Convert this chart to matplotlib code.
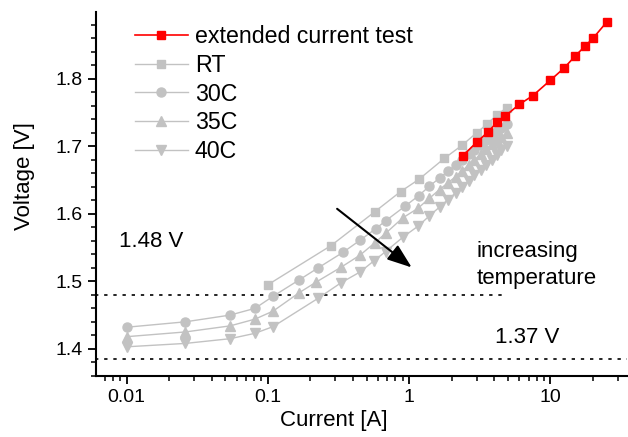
import numpy as np
import matplotlib
matplotlib.use('Agg')
import matplotlib.pyplot as plt
from matplotlib.ticker import MultipleLocator, LogLocator, NullFormatter

plt.rcParams['font.family'] = ['Liberation Sans', 'DejaVu Sans']

# current [A] / voltage [V]
i_ext = [2.4, 3.0, 3.6, 4.2, 4.8, 6.0, 7.5, 10, 12.5, 15, 17.5, 20, 25]
v_ext = [1.686, 1.706, 1.721, 1.736, 1.745, 1.762, 1.775, 1.798, 1.816, 1.834, 1.848, 1.860, 1.884]

i_rt = [0.1, 0.28, 0.57, 0.87, 1.17, 1.77, 2.38, 3.0, 3.56, 4.2, 4.89]
v_rt = [1.495, 1.553, 1.603, 1.633, 1.651, 1.682, 1.702, 1.720, 1.733, 1.747, 1.757]

i_30 = [0.01, 0.026, 0.054, 0.081, 0.109, 0.166, 0.227, 0.34, 0.45, 0.58, 0.685,
        0.93, 1.17, 1.39, 1.64, 1.88, 2.13, 2.38, 2.63, 2.9, 3.2, 3.5, 3.85, 4.2, 4.5, 4.9]
v_30 = [1.432, 1.440, 1.450, 1.460, 1.478, 1.502, 1.520, 1.543, 1.561, 1.578, 1.590,
        1.611, 1.627, 1.641, 1.653, 1.663, 1.672, 1.680, 1.688, 1.695, 1.702, 1.709, 1.716, 1.722, 1.727, 1.733]

i_35 = [0.01, 0.026, 0.054, 0.081, 0.109, 0.166, 0.22, 0.33, 0.45, 0.57, 0.68,
        0.9, 1.15, 1.39, 1.64, 1.88, 2.13, 2.38, 2.63, 2.9, 3.2, 3.5, 3.85, 4.2, 4.5, 4.9]
v_35 = [1.418, 1.425, 1.434, 1.444, 1.456, 1.483, 1.499, 1.521, 1.539, 1.557, 1.571,
        1.594, 1.608, 1.623, 1.636, 1.646, 1.655, 1.664, 1.672, 1.680, 1.688, 1.696, 1.703, 1.709, 1.714, 1.720]

i_40 = [0.01, 0.026, 0.054, 0.081, 0.109, 0.227, 0.33, 0.45, 0.56, 0.68,
        0.91, 1.16, 1.39, 1.64, 1.88, 2.13, 2.38, 2.63, 2.9, 3.2, 3.5, 3.85, 4.2, 4.5, 4.9]
v_40 = [1.403, 1.408, 1.415, 1.423, 1.433, 1.475, 1.498, 1.514, 1.530, 1.544,
        1.566, 1.582, 1.597, 1.610, 1.621, 1.631, 1.640, 1.649, 1.657, 1.665, 1.673, 1.680, 1.687, 1.694, 1.700]

v_upper = 1.48
v_lower = 1.385

grey = '#c2c2c2'

fig = plt.figure(figsize=(6.28, 4.37), dpi=100)
ax = fig.add_axes([0.153, 0.140, 0.845, 0.8325])

ax.hlines(v_upper, 0.006, 4.8, colors='black', linestyles=(0, (2, 3.5)), lw=1.2)
ax.hlines(v_lower, 0.006, 40, colors='black', linestyles=(0, (2, 3.5)), lw=1.2)

ax.plot(i_rt, v_rt, color=grey, lw=1, marker='s', ms=6, mec=grey, mfc=grey, label='RT', zorder=3)
ax.plot(i_30, v_30, color=grey, lw=1, marker='o', ms=6.5, mec=grey, mfc=grey, label='30C', zorder=3)
ax.plot(i_35, v_35, color=grey, lw=1, marker='^', ms=7, mec=grey, mfc=grey, label='35C', zorder=3)
ax.plot(i_40, v_40, color=grey, lw=1, marker='v', ms=7, mec=grey, mfc=grey, label='40C', zorder=3)
ax.plot(i_ext, v_ext, color='red', lw=1.2, marker='s', ms=6, mec='red', mfc='red',
        label='extended current test', zorder=4)

ax.annotate('', xy=(1.08, 1.518), xytext=(0.298, 1.61),
            arrowprops=dict(arrowstyle='-|>,head_length=1.5,head_width=0.55', color='black', lw=1.5),
            zorder=5)

ax.text(0.0088, 1.5585, '1.48 V', fontsize=16, va='center', ha='left')
ax.text(4.05, 1.4163, '1.37 V', fontsize=16, va='center', ha='left')
ax.text(3.0, 1.5244, 'increasing\ntemperature', fontsize=16, va='center', ha='left', linespacing=1.4)

ax.set_xscale('log')
ax.set_xlim(0.00607, 34.7)
ax.set_ylim(1.36, 1.899)
ax.set_xticks([0.01, 0.1, 1, 10])
ax.set_xticklabels(['0.01', '0.1', '1', '10'])
ax.xaxis.set_minor_locator(LogLocator(base=10, subs=np.arange(2, 10)))
ax.xaxis.set_minor_formatter(NullFormatter())
ax.yaxis.set_major_locator(MultipleLocator(0.1))
ax.yaxis.set_minor_locator(MultipleLocator(0.02))

for s in ['top', 'right']:
    ax.spines[s].set_visible(False)
for s in ['left', 'bottom']:
    ax.spines[s].set_linewidth(1.5)
ax.tick_params(which='major', direction='out', length=6, width=1.3, labelsize=14, colors='black')
ax.tick_params(which='minor', direction='out', length=3.5, width=1.1)

ax.set_xlabel('Current [A]', fontsize=16)
ax.set_ylabel('Voltage [V]', fontsize=16)
ax.xaxis.set_label_coords(0.448, -0.095)
ax.yaxis.set_label_coords(-0.115, 0.55)

h, l = ax.get_legend_handles_labels()
order = [4, 0, 1, 2, 3]
leg = ax.legend([h[k] for k in order], [l[k] for k in order], loc='upper left',
                bbox_to_anchor=(0.055, 0.99), frameon=False, fontsize=16.7,
                handlelength=2.3, handletextpad=0.3, labelspacing=0.25, borderaxespad=0)

fig.savefig('out.png', dpi=100)
